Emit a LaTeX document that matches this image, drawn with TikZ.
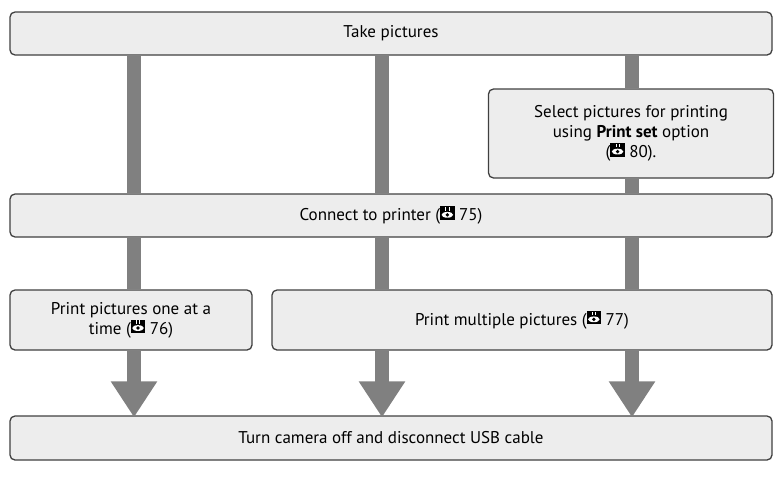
\documentclass[tikz,border=0pt]{standalone}
\usepackage{fontspec}
\setmainfont{PT Sans}
\usetikzlibrary{arrows.meta}
\newcommand\eyeicon{\tikz[baseline=-1pt,sharp corners,line width=0.4pt]{\fill (0,0) rectangle (0.85em,0.8em);
  \fill[white] (0.42em,0.3em) ellipse (0.34em and 0.17em);
  \fill (0.42em,0.3em) circle (0.11em);
  \fill[white] (0.3em,0.55em) rectangle (0.36em,0.75em);
  \fill[white] (0.5em,0.55em) rectangle (0.56em,0.75em);}}
\begin{document}
\begin{tikzpicture}[x=1pt,y=-1pt,
  box/.style = {draw=black!75, line width=1.3pt, rounded corners=5pt,
    fill=black!7, align=center, inner sep=0pt, font=\fontsize{17}{20}\selectfont},
  bar/.style = {draw=black!50, line width=14pt},
  arr/.style = {bar, -{Triangle[width=44pt,length=36pt]}}]
  \useasboundingbox (0,0) rectangle (782,498);
  \coordinate (c1) at (134,0);
  \coordinate (c2) at (382,0);
  \coordinate (c3) at (632,0);
  % boxes
  \node[box, minimum width=762, minimum height=43] (take) at (391,33.5) {Take pictures};
  \node[box, minimum width=285, minimum height=89] (sel) at (631,133.5)
    {Select pictures for printing\\using \textbf{Print set} option\\(\eyeicon{} 80).};
  \node[box, minimum width=762, minimum height=43] (conn) at (391,215.5)
    {Connect to printer (\eyeicon{} 75)};
  \node[box, minimum width=242, minimum height=60] (one) at (131,320)
    {Print pictures one at a\\time (\eyeicon{} 76)};
  \node[box, minimum width=500, minimum height=60] (multi) at (522,320)
    {Print multiple pictures (\eyeicon{} 77)};
  \node[box, minimum width=762, minimum height=44] (off) at (391,438)
    {Turn camera off and disconnect USB cable};
  % connectors
  \draw[bar] (take.south -| c1) -- (conn.north -| c1);
  \draw[bar] (take.south -| c2) -- (conn.north -| c2);
  \draw[bar] (take.south -| c3) -- (sel.north -| c3);
  \draw[bar] (sel.south -| c3) -- (conn.north -| c3);
  \draw[bar] (conn.south -| c1) -- (one.north -| c1);
  \draw[bar] (conn.south -| c2) -- (multi.north -| c2);
  \draw[bar] (conn.south -| c3) -- (multi.north -| c3);
  \draw[arr] (one.south -| c1) -- ([yshift=-2pt]off.north -| c1);
  \draw[arr] (multi.south -| c2) -- ([yshift=-2pt]off.north -| c2);
  \draw[arr] (multi.south -| c3) -- ([yshift=-2pt]off.north -| c3);
\end{tikzpicture}
\end{document}
